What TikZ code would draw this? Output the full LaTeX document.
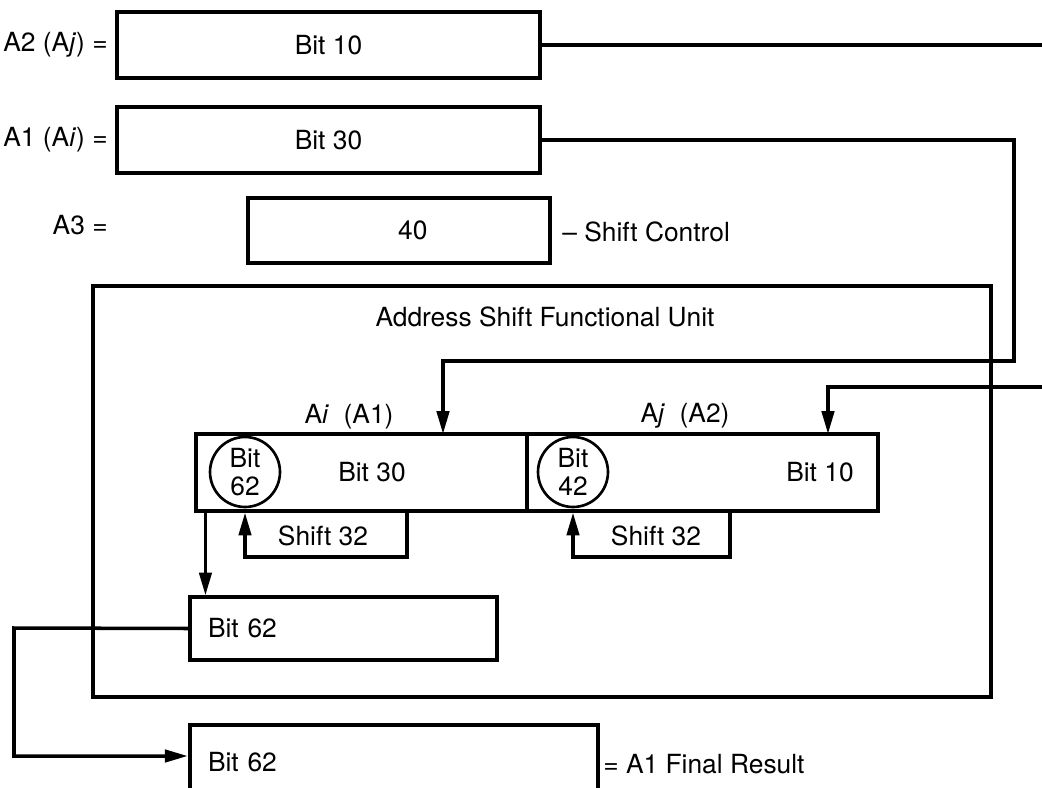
\documentclass[tikz,border=0pt]{standalone}
\usepackage{fontspec}
\setmainfont{TeX Gyre Heros}
\usetikzlibrary{arrows.meta,positioning,calc}

\begin{document}
\begin{tikzpicture}[
  x=0.02cm, y=-0.02cm,
  every node/.style={font=\fontsize{15}{17}\selectfont},
  reg/.style={draw, line width=2.6pt, minimum width=8.46cm, minimum height=1.32cm, inner sep=0pt},
  cell/.style={draw, line width=1.8pt, minimum height=1.54cm, inner sep=0pt},
  bitcirc/.style={draw, circle, line width=1.5pt, minimum size=1.4cm, inner sep=0pt, align=center, font=\fontsize{15}{15.5}\selectfont},
  lbl/.style={inner sep=0pt},
  wire/.style={line width=2pt},
  arr/.style={wire, -{Triangle[length=13pt, width=7pt]}}
]
\useasboundingbox (0,0) rectangle (1042,788);

% source registers
\node[reg] (a2box) at (328.5,45) {Bit 10};
\node[reg] (a1box) at (328.5,140) {Bit 30};
\node[reg, minimum width=6.04cm, minimum height=1.3cm] (a3box) at (399,230.5) {\hspace{0.55cm}40};
\node[lbl, anchor=east] (a2lbl) at (108,45) {A2 (A\textit{j}) =};
\node[lbl, anchor=east] (a1lbl) at (108,140) {A1 (A\textit{i}) =};
\node[lbl, anchor=east] (a3lbl) at (108,225) {A3 =};
\node[lbl, anchor=west] (ctl) at (562,232) {-- Shift Control};

% functional unit
\node[draw, line width=2.6pt, minimum width=17.96cm, minimum height=8.22cm] (unit) at (542,491.5) {};
\node[lbl] (title) at (545,317) {Address Shift Functional Unit};

\node[cell, minimum width=6.62cm] (regi) at (361.5,472.5) {};
\node[cell, minimum width=7.02cm] (regj) at (702.5,472.5) {};
\node[lbl, anchor=south] (ilbl) at (349,429) {A\textit{i}\ \ (A1)};
\node[lbl, anchor=south] (jlbl) at (685,429) {A\textit{j}\ \ (A2)};

\node[bitcirc] (c62) at (245,472) {Bit\\62};
\node[lbl] (t30) at (372,472) {Bit 30};
\node[bitcirc] (c42) at (573,472) {Bit\\42};
\node[lbl] (t10) at (820,472) {Bit 10};

\node[lbl] (sh1) at (323,536) {Shift 32};
\node[lbl] (sh2) at (656,536) {Shift 32};
\coordinate (s1) at (407,557);
\coordinate (s2) at (730,557);
\draw[arr] (regi.south -| s1) |- (c62 |- s1) -- (c62 |- regi.south);
\draw[arr] (regj.south -| s2) |- (c42 |- s2) -- (c42 |- regj.south);

\node[draw, line width=1.8pt, minimum height=1.26cm, text width=5.42cm, inner xsep=0.36cm, inner ysep=0pt, align=left] (b62) at (343.5,628.5) {Bit 62};
\coordinate (dtop) at ([xshift=0.22cm]regi.south west);
\draw[arr] (dtop) -- (dtop |- b62.north);

% result
\node[draw, line width=2.6pt, minimum height=1.5cm, text width=7.44cm, inner xsep=0.36cm, inner ysep=0pt, align=left] (fin) at (394,762.5) {Bit 62};
\node[lbl, anchor=west] (finlbl) at (603,764) {= A1 Final Result};

% connectors
\coordinate (a2out) at (1042,45);
\coordinate (a1turn) at (1014,361);
\coordinate (aiin) at (443,434);
\coordinate (ajsrc) at (1042,387);
\coordinate (ajin) at (828,434);
\coordinate (fb) at (14,628);
\draw[wire] (a2box.east) -- (a2out);
\draw[arr] (a1box.east) -| (a1turn) -| (aiin);
\draw[arr] (ajsrc) -| (ajin);
\draw[arr] (b62.west) -- (fb) |- ([yshift=0.13cm]fin.west);
\end{tikzpicture}
\end{document}
